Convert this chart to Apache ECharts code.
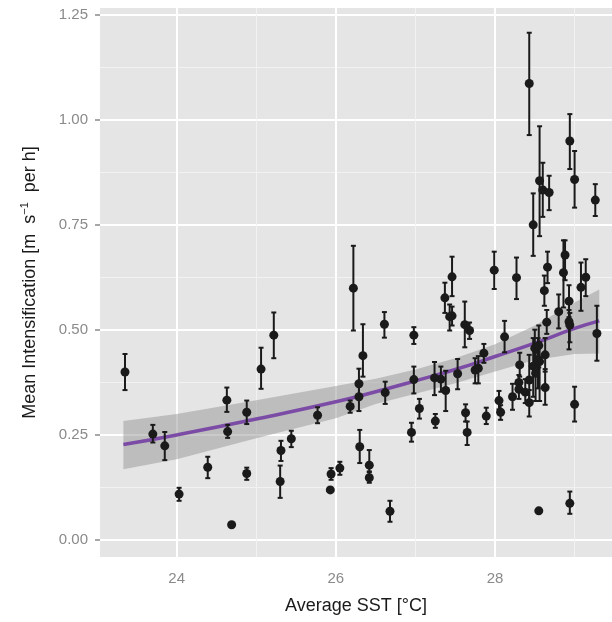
<!DOCTYPE html>
<html>
<head>
<meta charset="utf-8">
<script src="https://cdn.jsdelivr.net/npm/echarts@6/dist/echarts.min.js"></script>
<style>
  html, body { margin: 0; padding: 0; background: #fff; }
  #chart { width: 612px; height: 622px; }
</style>
</head>
<body>
<div id="chart"></div>
<script>
// 观测点: 平均SST, 平均增强率, 误差棒下限/上限
var sst   = [23.35, 23.70, 23.85, 24.03, 24.39, 24.63, 24.64, 24.69, 24.88, 24.88,
             25.06, 25.22, 25.31, 25.30, 25.44, 25.77, 25.93, 25.94, 26.05, 26.22,
             26.34, 26.29, 26.29, 26.18, 26.30, 26.42, 26.42, 26.68, 26.62, 26.61,
             26.98, 26.98, 26.95, 27.05, 27.25, 27.24, 27.32, 27.38, 27.37, 27.46,
             27.43, 27.46, 27.53, 27.62, 27.68, 27.63, 27.65, 27.75, 27.79, 27.86,
             27.89, 28.05, 28.07, 28.12, 27.99, 28.27, 28.22, 28.31, 28.30, 28.30,
             28.38, 28.43, 28.43, 28.48, 28.50, 28.51, 28.54, 28.55, 28.56, 28.63,
             28.63, 28.55, 28.94, 29.00, 29.28, 28.93, 28.94, 28.93, 28.80, 28.65,
             28.62, 28.66, 28.86, 28.88, 29.08, 29.14, 28.43, 28.94, 29.00, 28.56,
             28.60, 28.68, 29.26, 28.48];
var meanI = [0.399, 0.251, 0.223, 0.108, 0.172, 0.332, 0.257, 0.035, 0.303, 0.157,
             0.406, 0.487, 0.212, 0.138, 0.240, 0.296, 0.118, 0.156, 0.170, 0.599,
             0.438, 0.371, 0.340, 0.317, 0.221, 0.177, 0.147, 0.067, 0.350, 0.513,
             0.487, 0.381, 0.255, 0.312, 0.282, 0.385, 0.382, 0.355, 0.576, 0.626,
             0.531, 0.533, 0.395, 0.512, 0.498, 0.302, 0.255, 0.404, 0.408, 0.444,
             0.294, 0.331, 0.303, 0.483, 0.642, 0.624, 0.340, 0.416, 0.374, 0.358,
             0.351, 0.380, 0.326, 0.413, 0.456, 0.396, 0.429, 0.462, 0.424, 0.440,
             0.362, 0.068, 0.086, 0.322, 0.491, 0.519, 0.511, 0.568, 0.543, 0.518,
             0.593, 0.649, 0.636, 0.678, 0.601, 0.625, 1.087, 0.950, 0.858, 0.855,
             0.833, 0.827, 0.809, 0.750];
var lowerI = [0.356, 0.231, 0.189, 0.092, 0.146, 0.304, 0.242, 0.031, 0.275, 0.142,
             0.359, 0.432, 0.187, 0.099, 0.220, 0.277, 0.114, 0.142, 0.154, 0.498,
             0.388, 0.340, 0.306, 0.302, 0.182, 0.160, 0.135, 0.042, 0.323, 0.481,
             0.466, 0.348, 0.233, 0.288, 0.266, 0.344, 0.352, 0.306, 0.540, 0.580,
             0.498, 0.510, 0.358, 0.458, 0.478, 0.281, 0.225, 0.372, 0.372, 0.421,
             0.275, 0.310, 0.285, 0.446, 0.597, 0.573, 0.309, 0.388, 0.355, 0.335,
             0.325, 0.330, 0.293, 0.340, 0.400, 0.330, 0.360, 0.410, 0.330, 0.400,
             0.321, 0.064, 0.061, 0.281, 0.426, 0.453, 0.470, 0.530, 0.503, 0.490,
             0.557, 0.611, 0.553, 0.618, 0.545, 0.580, 0.964, 0.883, 0.791, 0.723,
             0.769, 0.785, 0.771, 0.676];
var upperI = [0.442, 0.273, 0.256, 0.123, 0.197, 0.362, 0.273, 0.039, 0.331, 0.171,
             0.457, 0.541, 0.235, 0.176, 0.259, 0.315, 0.122, 0.170, 0.185, 0.700,
             0.513, 0.407, 0.370, 0.331, 0.261, 0.213, 0.162, 0.092, 0.376, 0.542,
             0.506, 0.412, 0.278, 0.335, 0.299, 0.423, 0.412, 0.402, 0.612, 0.674,
             0.560, 0.555, 0.430, 0.567, 0.517, 0.322, 0.281, 0.432, 0.437, 0.466,
             0.314, 0.354, 0.320, 0.521, 0.686, 0.672, 0.371, 0.445, 0.392, 0.380,
             0.382, 0.440, 0.356, 0.480, 0.500, 0.445, 0.480, 0.510, 0.470, 0.480,
             0.406, 0.072, 0.114, 0.364, 0.557, 0.547, 0.540, 0.606, 0.584, 0.547,
             0.629, 0.686, 0.713, 0.713, 0.660, 0.668, 1.208, 1.014, 0.926, 0.985,
             0.898, 0.867, 0.847, 0.825];

// 拟合曲线及置信带
var fitX  = [23.33, 24, 25, 26, 26.5, 27, 27.5, 28, 28.5, 29, 29.31];
var fitY  = [0.226, 0.249, 0.287, 0.328, 0.352, 0.378, 0.405, 0.436, 0.468, 0.503, 0.521];
var bandLo = [0.167, 0.191, 0.241, 0.289, 0.323, 0.347, 0.372, 0.400, 0.428, 0.442, 0.443];
var bandHi = [0.282, 0.299, 0.332, 0.366, 0.383, 0.405, 0.432, 0.465, 0.510, 0.565, 0.596];

// 刻度
var xMajor = [24, 26, 28];
var xMinor = [25, 27, 29];
var yMajor = [0, 0.25, 0.5, 0.75, 1, 1.25];
var yMinor = [0.125, 0.375, 0.625, 0.875, 1.125];

var X_MIN = 23.036, X_MAX = 29.47;
var Y_MIN = -0.042, Y_MAX = 1.267;

var FONT = 'Liberation Sans';
var INK = '#1a1a1a';
var GREY_TXT = '#8a8a8a';

var points = sst.map(function (x, i) { return [x, meanI[i]]; });
var bars = sst.map(function (x, i) { return [x, lowerI[i], upperI[i]]; });
var fitLine = fitX.map(function (x, i) { return [x, fitY[i]]; });

var myChart = echarts.init(document.getElementById('chart'));

var option = {
  animation: false,
  grid: {
    left: 100, right: 0, top: 8, bottom: 65,
    show: true, backgroundColor: '#E5E5E5', borderWidth: 0
  },
  xAxis: [{
    type: 'value', min: X_MIN, max: X_MAX,
    name: 'Average SST [°C]', nameLocation: 'middle', nameGap: 40,
    nameTextStyle: { fontFamily: FONT, fontSize: 18, color: INK },
    axisLine: { show: false },
    axisTick: { show: false, customValues: xMajor },
    axisLabel: { customValues: xMajor, fontFamily: FONT, fontSize: 15, color: GREY_TXT, margin: 14 },
    splitLine: { show: true, lineStyle: { color: '#ffffff', width: 2 } }
  }, {
    type: 'value', min: X_MIN, max: X_MAX, position: 'bottom',
    axisLine: { show: false },
    axisTick: { show: false, customValues: xMinor },
    axisLabel: { show: false },
    splitLine: { show: true, lineStyle: { color: '#F2F2F2', width: 1 } }
  }],
  yAxis: [{
    type: 'value', min: Y_MIN, max: Y_MAX,
    name: 'Mean Intensification [m  s{sup|−1}  per h]',
    nameLocation: 'middle', nameGap: 58,
    nameTextStyle: {
      fontFamily: FONT, fontSize: 18, color: INK,
      rich: { sup: { fontFamily: FONT, fontSize: 11, color: INK, padding: [0, 0, 12, 0] } }
    },
    axisLine: { show: false },
    axisTick: { show: true, length: 5, customValues: yMajor, lineStyle: { color: GREY_TXT, width: 1.5 } },
    axisLabel: {
      customValues: yMajor, fontFamily: FONT, fontSize: 15, color: GREY_TXT, margin: 12,
      formatter: function (v) { return v.toFixed(2); }
    },
    splitLine: { show: true, lineStyle: { color: '#ffffff', width: 2 } }
  }, {
    type: 'value', min: Y_MIN, max: Y_MAX, position: 'left',
    axisLine: { show: false },
    axisTick: { show: false, customValues: yMinor },
    axisLabel: { show: false },
    splitLine: { show: true, lineStyle: { color: '#F2F2F2', width: 1 } }
  }],
  series: [{
    // 置信带
    type: 'custom',
    z: 2,
    data: [[fitX[0], bandLo[0]]],
    renderItem: function (params, api) {
      var pts = [];
      var i;
      for (i = 0; i < fitX.length; i++) pts.push(api.coord([fitX[i], bandHi[i]]));
      for (i = fitX.length - 1; i >= 0; i--) pts.push(api.coord([fitX[i], bandLo[i]]));
      return {
        type: 'polygon',
        shape: { points: pts },
        style: { fill: 'rgba(150,150,150,0.5)', stroke: null }
      };
    },
    silent: true
  }, {
    type: 'line',
    z: 3,
    data: fitLine,
    smooth: true,
    symbol: 'none',
    lineStyle: { color: '#7B4BA6', width: 3.5 },
    silent: true
  }, {
    // 误差棒
    type: 'custom',
    z: 4,
    data: bars,
    encode: { x: 0, y: [1, 2] },
    renderItem: function (params, api) {
      var top = api.coord([api.value(0), api.value(2)]);
      var bot = api.coord([api.value(0), api.value(1)]);
      var w = 2.5;
      var st = { stroke: INK, lineWidth: 2 };
      return {
        type: 'group',
        children: [
          { type: 'line', shape: { x1: top[0], y1: top[1], x2: bot[0], y2: bot[1] }, style: st },
          { type: 'line', shape: { x1: top[0] - w, y1: top[1], x2: top[0] + w, y2: top[1] }, style: st },
          { type: 'line', shape: { x1: bot[0] - w, y1: bot[1], x2: bot[0] + w, y2: bot[1] }, style: st }
        ]
      };
    },
    silent: true
  }, {
    type: 'scatter',
    z: 5,
    data: points,
    symbolSize: 9,
    itemStyle: { color: INK, opacity: 1 },
    silent: true
  }]
};
myChart.setOption(option);
</script>
</body>
</html>
